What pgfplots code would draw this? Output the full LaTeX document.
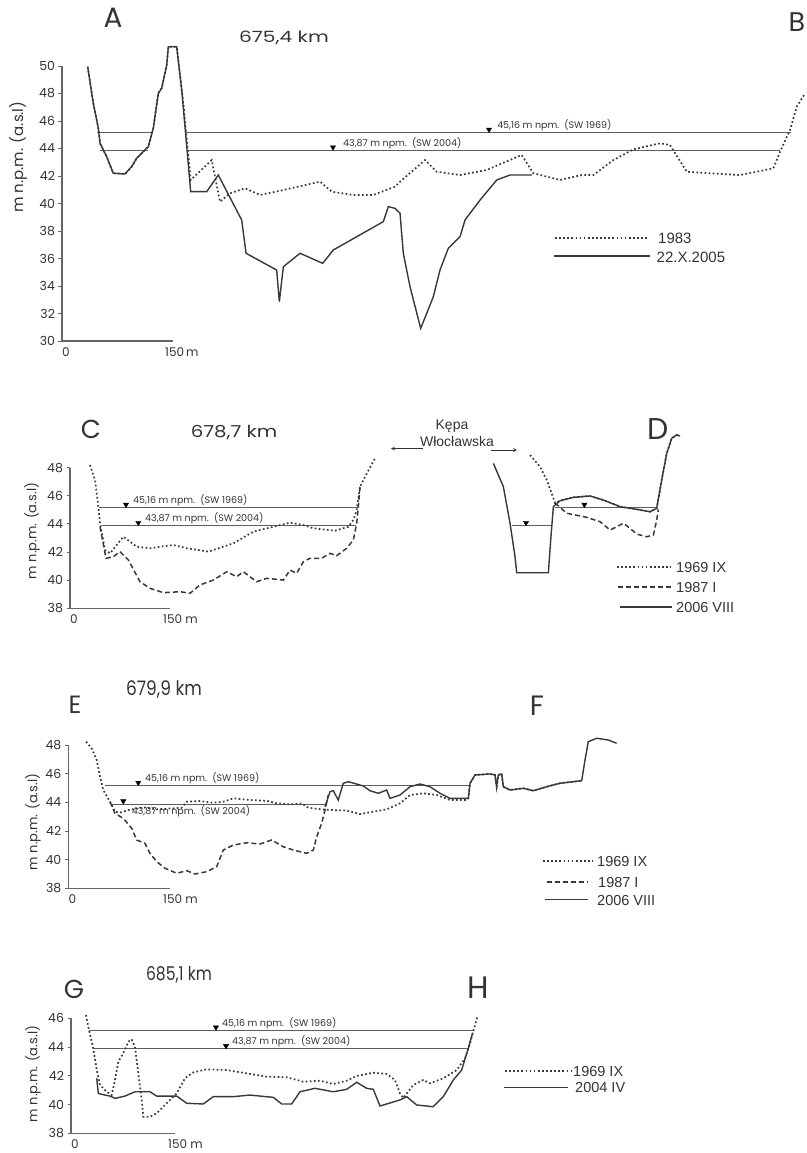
\documentclass[border=0pt]{standalone}
\usepackage{fontspec}
\setmainfont{Poppins}
\newfontfamily\arial{Liberation Sans}
\usepackage{pgfplots}
\pgfplotsset{compat=1.18}
\definecolor{ln}{HTML}{383838}
\definecolor{wl}{HTML}{5E5E5E}
\definecolor{tx}{HTML}{333333}
\definecolor{ax}{HTML}{666666}
\tikzset{
  p69/.style={draw=ln, line width=1.7pt, dash pattern=on 1.7pt off 2.4pt},
  p87/.style={draw=ln, line width=1.5pt, dash pattern=on 5pt off 3pt},
  psol/.style={draw=ln, line width=1.4pt, solid},
  wlev/.style={draw=wl, line width=0.9pt},
  lgtxt/.style={anchor=west, inner sep=0pt, text=tx, font=\arial\fontsize{14.5}{14.5}\selectfont},
  wtxt/.style={anchor=south west, inner sep=0pt, text=tx, font=\fontsize{9.5}{9.5}\selectfont, yshift=1.5pt},
  big/.style={text=tx, inner sep=0pt, font=\fontsize{#1}{#1}\selectfont},
  xlab/.style={anchor=north west, inner sep=0pt, text=tx, font=\fontsize{12}{12}\selectfont, yshift=-6pt},
}
\pgfplotsset{
  prof/.style={axis lines=left, axis line style={-, draw=ax, line width=1.1pt},
    clip=false, xmin=0, xmax=150, xtick=\empty, ytick distance=2,
    tick align=outside, major tick length=3.5pt,
    every tick/.style={draw=ax, line width=0.9pt},
    yticklabel style={font=\fontsize{12.5}{12.5}\selectfont, text=tx},
    /pgf/number format/assume math mode=true, anchor=south west,
    ylabel={m n.p.m. (a.s.l)},
    ylabel style={font=\fontsize{13}{13}\selectfont, text=tx, anchor=center}},
  wmark/.style={only marks, mark=triangle*, mark size=3pt,
    mark options={fill=black, draw=black, solid, yshift=3pt, rotate=180}, forget plot},
}
\begin{document}
\begin{tikzpicture}
\path[use as bounding box] (0pt,0pt) rectangle (806pt,-1153pt);

% ---------------- Panel A / B ----------------
\begin{axis}[prof, at={(62pt,-341pt)}, x=0.74pt, y=13.75pt, ymin=30, ymax=50,
  ylabel style={at={(axis description cs:-0.396,0.669)}, font=\fontsize{15}{15}\selectfont}]
\addplot[wlev] coordinates {(47.3,45.16) (123.0,45.16)};
\addplot[wlev] coordinates {(51.4,43.87) (116.2,43.87)};
\addplot[wlev] coordinates {(167.6,45.16) (985.2,45.16)};
\addplot[wlev] coordinates {(170.3,43.87) (970.3,43.87)};
\addplot[p69] coordinates {(34.7,49.95) (42.3,47.29) (49.1,45.47) (51.4,44.38) (60.4,43.40) (69.3,42.20) (85.1,42.15) (94.2,42.68) (100.9,43.29) (116.6,44.13) (123.4,45.47) (130.1,48.01) (134.7,48.38) (141.5,50.07) (143.7,51.40) (155.0,51.40) (161.8,48.25) (163.1,47.77) (173.9,41.71) (202.3,43.16) (213.5,40.13) (227.0,40.74) (247.3,41.11) (267.6,40.62) (299.1,40.98) (348.7,41.59) (364.5,40.86) (393.7,40.62) (420.7,40.62) (450.0,41.22) (456.8,41.59) (490.6,43.16) (506.4,42.31) (537.9,42.07) (573.9,42.44) (621.2,43.53) (636.9,42.20) (673.0,41.71) (702.3,42.07) (718.0,42.07) (745.0,43.16) (772.1,43.94) (808.1,44.38) (821.7,44.25) (844.2,42.31) (875.7,42.20) (916.3,42.07) (961.3,42.56) (970.3,43.77) (983.8,45.35) (992.9,47.04) (1004.1,48.01)};
\addplot[psol] coordinates {(34.7,49.95) (42.3,47.29) (49.1,45.47) (51.4,44.38) (60.4,43.40) (69.3,42.20) (85.1,42.15) (94.2,42.68) (100.9,43.29) (116.6,44.13) (123.4,45.47) (130.1,48.01) (134.7,48.38) (141.5,50.07) (143.7,51.40) (155.0,51.40) (161.8,48.25) (166.2,45.59) (173.9,40.86) (195.5,40.86) (211.2,42.07) (242.8,38.80) (248.7,36.38) (290.1,35.16) (293.7,32.86) (299.1,35.40) (321.6,36.38) (352.3,35.65) (366.6,36.62) (434.2,38.68) (441.0,39.77) (450.0,39.65) (456.8,39.29) (461.2,36.38) (470.3,33.95) (484.7,30.92) (501.8,33.22) (510.8,35.16) (522.0,36.74) (537.9,37.59) (544.6,38.80) (564.9,40.25) (587.5,41.71) (605.4,42.07) (634.8,42.07)};
\addplot[wmark] coordinates {(577,45.16) (366.2,43.87)};
\node[wtxt] at (axis cs:587.9,45.16) {45,16 m npm.\ \ (SW 1969)};
\node[wtxt] at (axis cs:379.7,43.87) {43,87 m npm.\ \ (SW 2004)};
\node[xlab] at (axis cs:0,30) {0};
\node[xlab, xshift=-8pt] at (axis cs:150,30) {150\,m};
\end{axis}

% ---------------- Panel C / D ----------------
\begin{axis}[prof, at={(70pt,-608.3pt)}, x=0.6667pt, y=14.06pt, ymin=38, ymax=48,
  ylabel style={at={(axis description cs:-0.38,0.55)}}]
\addplot[wlev] coordinates {(43.5,45.16) (432,45.16)};
\addplot[wlev] coordinates {(47.5,43.87) (428.6,43.87)};
\addplot[wlev] coordinates {(662.5,43.87) (721,43.87)};
\addplot[wlev] coordinates {(727.5,45.16) (880,45.16)};
\addplot[p69] coordinates {(30,48.19) (37.5,47.13) (42.5,45.23) (45,44.05) (52.5,42.15) (60,41.91) (80,43.09) (100,42.38) (120,42.27) (135,42.38) (155,42.50) (175,42.27) (207.5,42.03) (245,42.62) (275,43.45) (305,43.80) (330,44.09) (350,43.92) (365,43.69) (397.5,43.52) (417.5,43.80) (425,44.28) (430,44.99) (435,46.65) (442.5,47.36) (457.5,48.67)};
\addplot[p87] coordinates {(45,43.80) (54,41.56) (65,41.67) (75,42.03) (87.5,41.44) (105,39.89) (120,39.42) (140,39.11) (165,39.18) (180,39.07) (195,39.66) (215,40.01) (235,40.60) (250,40.25) (260,40.60) (280,39.89) (295,40.13) (320,40.01) (330,40.72) (340,40.49) (350,41.31) (360,41.56) (377.5,41.56) (390,41.91) (400,41.74) (415,42.27) (425,42.86) (430,44.05) (432.5,45.23) (435,46.65)};
\addplot[p69] coordinates {(690,48.90) (705,48.07) (715,47.13) (722.5,46.18) (727.5,45.49) (735,45.65) (755,45.89) (780,45.99) (800,45.70) (825,45.23) (850,45.04) (870,44.87) (880,45.11) (887.5,47.13) (895,49.02) (902.5,50.09) (910,50.33) (915,50.25)};
\addplot[p87] coordinates {(727.5,45.49) (745,44.76) (775,44.47) (795,44.16) (810,43.57) (820,43.80) (830,44.05) (840,43.69) (850,43.28) (865,43.09) (875,43.21) (880,44.28) (882.5,45.04)};
\addplot[psol] coordinates {(635,48.31) (650,46.65) (660,44.05) (667.5,41.67) (670,40.53) (717.5,40.53) (721,42.86) (725,45.23) (735,45.65) (755,45.89) (780,45.99) (800,45.70) (825,45.23) (850,45.04) (870,44.87) (880,45.11) (887.5,47.13) (895,49.02) (902.5,50.09) (910,50.33) (915,50.25)};
\addplot[wmark] coordinates {(84,45.16) (102.5,43.87) (684,43.87) (771.5,45.16)};
\node[wtxt] at (axis cs:94.5,45.16) {45,16 m npm.\ \ (SW 1969)};
\node[wtxt] at (axis cs:112.5,43.87) {43,87 m npm.\ \ (SW 2004)};
\node[xlab] at (axis cs:0,38) {0};
\node[xlab, xshift=-7pt] at (axis cs:150,38) {150 m};
\end{axis}

% ---------------- Panel E / F ----------------
\begin{axis}[prof, at={(68.3pt,-888.3pt)}, x=0.678pt, y=14.33pt, ymin=38, ymax=48,
  ylabel style={at={(axis description cs:-0.347,0.463)}}]
\addplot[wlev] coordinates {(54.1,45.16) (592.5,45.16)};
\addplot[wlev] coordinates {(62.5,43.87) (378.6,43.87)};
\addplot[p69] coordinates {(26.1,48.23) (34.5,47.77) (41.9,46.95) (46.8,45.79) (51.6,44.86) (61.5,44.04) (68.9,43.35) (76.3,43.28) (88.5,43.46) (110.6,43.65) (130.4,43.51) (154.9,43.58) (167.3,43.62) (174.6,44.04) (194.2,44.09) (213.9,43.97) (228.6,44.04) (243.4,44.28) (268.0,44.16) (292.6,44.11) (307.4,43.93) (327.0,43.86) (344.2,43.93) (354.0,43.62) (373.7,43.51) (390.8,43.46) (410.6,43.42) (430.2,43.18) (449.8,43.35) (469.6,43.51) (489.2,43.93) (504.0,44.51) (523.6,44.63) (543.4,44.51) (563.0,44.16) (587.6,44.16) (590.0,44.28) (592.5,45.33) (599.9,45.91) (622.0,45.98) (629.3,45.91) (631.8,45.09) (634.2,45.91) (639.2,45.98) (641.6,45.09) (651.5,44.86) (671.1,44.98) (685.8,44.81) (705.6,45.09) (725.2,45.33) (757.2,45.51)};
\addplot[p87] coordinates {(61.5,44.04) (68.9,43.23) (81.1,42.88) (93.5,42.19) (100.9,41.37) (113.1,41.14) (120.5,40.44) (130.4,39.86) (142.6,39.40) (159.9,39.05) (174.6,39.23) (186.9,39.00) (204.1,39.16) (218.9,39.51) (228.6,40.67) (243.4,41.02) (263.1,41.18) (282.7,41.09) (300.0,41.37) (317.1,40.90) (331.9,40.67) (351.6,40.44) (361.4,40.67) (366.4,41.60) (373.7,42.54) (378.6,43.46) (383.5,44.51)};
\addplot[psol] coordinates {(378.6,43.69) (386.0,44.74) (390.8,44.81) (398.2,44.16) (405.6,45.33) (413.0,45.44) (435.1,45.14) (445.0,44.81) (457.2,44.63) (469.6,44.86) (474.5,44.28) (489.2,44.51) (504.0,45.09) (518.7,45.28) (533.5,45.09) (548.2,44.63) (563.0,44.28) (590.0,44.28) (592.5,45.33) (599.9,45.91) (622.0,45.98) (629.3,45.91) (631.8,45.09) (634.2,45.91) (639.2,45.98) (641.6,45.09) (651.5,44.86) (671.1,44.98) (685.8,44.81) (705.6,45.09) (725.2,45.33) (757.2,45.51) (762.1,46.95) (766.9,48.23) (779.3,48.47) (796.4,48.35) (808.8,48.12)};
\addplot[wmark] coordinates {(103.2,45.16) (81.1,43.87)};
\node[wtxt] at (axis cs:113.1,45.16) {45,16 m npm.\ \ (SW 1969)};
\node[wtxt, anchor=north west, yshift=-3pt] at (axis cs:93.5,43.87) {43,87 m npm.\ \ (SW 2004)};
\node[xlab] at (axis cs:0,38) {0};
\node[xlab, xshift=-7pt] at (axis cs:150,38) {150 m};
\end{axis}

% ---------------- Panel G / H ----------------
\begin{axis}[prof, at={(71pt,-1133.3pt)}, x=0.6933pt, y=14.375pt, ymin=38, ymax=46,
  ylabel style={at={(axis description cs:-0.365,0.516)}}]
\addplot[wlev] coordinates {(26.4,45.16) (579.4,45.16)};
\addplot[wlev] coordinates {(32.2,43.87) (573.0,43.87)};
\addplot[p69] coordinates {(21.6,46.23) (26.4,45.07) (32.2,43.91) (37.1,42.40) (41.8,41.36) (51.5,40.89) (58.7,40.66) (63.5,41.71) (68.2,42.98) (75.4,43.57) (82.6,44.37) (87.5,44.54) (92.3,44.02) (97.1,42.17) (102.0,40.32) (104.3,39.15) (113.9,39.15) (123.6,39.39) (138.0,40.09) (152.5,40.78) (164.4,41.83) (176.4,42.24) (195.7,42.45) (224.6,42.40) (253.4,42.17) (282.3,41.94) (311.1,41.90) (335.0,41.59) (359.1,41.66) (378.3,41.43) (397.6,41.66) (412.1,41.99) (436.0,42.22) (455.3,42.13) (467.3,41.71) (474.5,40.78) (479.3,40.46) (493.7,41.36) (508.1,41.71) (517.8,41.48) (537.0,41.83) (556.3,42.40) (568.3,43.22) (575.5,44.26) (580.2,45.07) (586.0,46.11)};
\addplot[psol] coordinates {(37.1,41.83) (39.4,40.78) (44.3,40.71) (56.2,40.59) (63.5,40.43) (77.9,40.59) (92.3,40.89) (113.9,40.89) (123.6,40.59) (152.5,40.59) (166.9,40.09) (190.8,40.04) (205.2,40.55) (234.1,40.55) (258.2,40.66) (291.8,40.50) (303.9,40.04) (318.3,40.04) (330.3,40.89) (351.9,41.13) (378.3,40.89) (397.6,41.06) (412.1,41.55) (426.5,41.13) (436.0,41.06) (445.7,39.90) (474.5,40.32) (484.2,40.55) (498.6,39.97) (522.5,39.85) (537.0,40.55) (551.4,41.71) (563.5,42.40) (573.0,43.91) (579.4,45.00)};
\addplot[wmark] coordinates {(209.1,45.16) (223.6,43.87)};
\node[wtxt] at (axis cs:217.8,45.16) {45,16 m npm.\ \ (SW 1969)};
\node[wtxt] at (axis cs:232.2,43.87) {43,87 m npm.\ \ (SW 2004)};
\node[xlab] at (axis cs:0,38) {0};
\node[xlab, xshift=-7pt] at (axis cs:150,38) {150 m};
\end{axis}

% ---------------- titles and letters ----------------
\node[big=28] at (113pt,-18pt) {A};
\node[big=15.5, xscale=1.3] at (284pt,-38pt) {675,4 km};
\node[big=27] at (797pt,-22pt) {B};
\node[big=26] at (91pt,-429pt) {C};
\node[big=16.5, xscale=1.2] at (234pt,-433pt) {678,7 km};
\node[big=30] at (658pt,-429pt) {D};
\node[big=25] at (75pt,-705pt) {E};
\node[big=20, xscale=0.85] at (164pt,-690pt) {679,9 km};
\node[big=28] at (537pt,-706pt) {F};
\node[big=26] at (74pt,-989pt) {G};
\node[big=19, xscale=0.82] at (179pt,-975pt) {685,1 km};
\node[big=31] at (478pt,-988pt) {H};

% Kepa Wloclawska
\node[text=tx, inner sep=0pt, font=\arial\fontsize{14}{14}\selectfont] at (452pt,-426pt) {Kępa};
\node[text=tx, inner sep=0pt, font=\arial\fontsize{14}{14}\selectfont] at (457pt,-441pt) {Włocławska};
\draw[tx, line width=0.8pt, stealth-] (391pt,-448.5pt) -- (423pt,-448.5pt);
\draw[tx, line width=0.8pt, -stealth] (491pt,-450pt) -- (517pt,-450pt);

% ---------------- legends ----------------
\draw[p69] (555pt,-238pt) -- (647pt,-238pt);
\node[lgtxt, font=\arial\fontsize{15}{15}\selectfont] at (658pt,-238pt) {1983};
\draw[psol] (554pt,-256pt) -- (650pt,-256pt);
\node[lgtxt, font=\arial\fontsize{15}{15}\selectfont] at (656.5pt,-257pt) {22.X.2005};

\draw[p69] (617pt,-567pt) -- (671pt,-567pt);
\node[lgtxt] at (676pt,-567.5pt) {1969 IX};
\draw[p87] (618pt,-587pt) -- (671pt,-587pt);
\node[lgtxt] at (676pt,-587.5pt) {1987 I};
\draw[psol] (620pt,-607pt) -- (672pt,-607pt);
\node[lgtxt] at (676pt,-607.5pt) {2006 VIII};

\draw[p69] (543pt,-861pt) -- (593pt,-861pt);
\node[lgtxt] at (597pt,-861pt) {1969 IX};
\draw[p87] (547pt,-882pt) -- (588pt,-882pt);
\node[lgtxt] at (598pt,-882pt) {1987 I};
\draw[psol] (545pt,-899.5pt) -- (588pt,-899.5pt);
\node[lgtxt] at (597pt,-900pt) {2006 VIII};

\draw[p69] (505pt,-1071pt) -- (572pt,-1071pt);
\node[lgtxt] at (573pt,-1071pt) {1969 IX};
\draw[psol] (504pt,-1087.5pt) -- (568pt,-1087.5pt);
\node[lgtxt] at (575pt,-1087.5pt) {2004 IV};
\end{tikzpicture}
\end{document}
